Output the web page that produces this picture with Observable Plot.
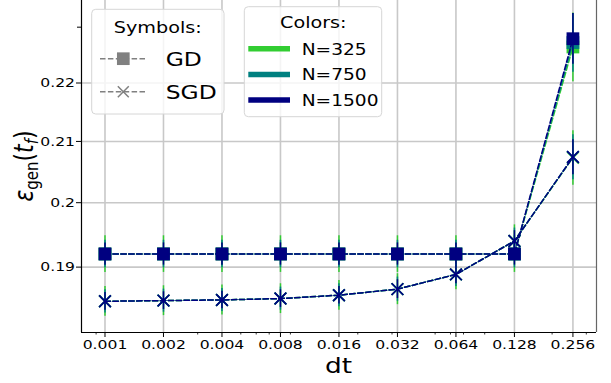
<!DOCTYPE html>
<html>
<head>
<meta charset="utf-8">
<script src="https://cdn.jsdelivr.net/npm/d3@7"></script>
<script src="https://cdn.jsdelivr.net/npm/@observablehq/plot@0.6"></script>
<style>
  html, body { margin: 0; padding: 0; background: #fff; }
  #chart svg { display: block; }
</style>
</head>
<body>
<div id="chart"></div>
<script>
// Step sizes (log axis) and the tick sets
const dt = [0.001, 0.002, 0.004, 0.008, 0.016, 0.032, 0.064, 0.128, 0.256];
const yTicks = [0.19, 0.2, 0.21, 0.22];
const yTopTick = [0.23];
const xMinorTicks = [0.0009, 0.003, 0.005, 0.006, 0.007, 0.009, 0.02, 0.03, 0.05, 0.06, 0.07, 0.09, 0.2, 0.3];

// Series: generalisation error at final time, per sample size N
const sizes = ["N=325", "N=750", "N=1500"];
const colors = ["#32cd32", "#008080", "#000080"];

const gd325  = [0.1920, 0.1920, 0.1920, 0.1920, 0.1920, 0.1920, 0.1920, 0.1920, 0.2264];
const gd750  = [0.1920, 0.1920, 0.1920, 0.1920, 0.1920, 0.1920, 0.1920, 0.1920, 0.2272];
const gd1500 = [0.1920, 0.1920, 0.1920, 0.1920, 0.1920, 0.1920, 0.1920, 0.1920, 0.2279];

const sgd325  = [0.1849, 0.1850, 0.1851, 0.1853, 0.1858, 0.1867, 0.1889, 0.1940, 0.2073];
const sgd750  = [0.1849, 0.1850, 0.1851, 0.1853, 0.1858, 0.1867, 0.1889, 0.1940, 0.2074];
const sgd1500 = [0.1849, 0.1850, 0.1851, 0.1853, 0.1858, 0.1867, 0.1889, 0.1940, 0.2074];

// Error bar half-widths
const gdErr325  = [0.0028, 0.0028, 0.0028, 0.0028, 0.0028, 0.0028, 0.0028, 0.0028, 0.0062];
const gdErr750  = [0.0021, 0.0021, 0.0021, 0.0021, 0.0021, 0.0021, 0.0021, 0.0021, 0.0053];
const gdErr1500 = [0.0017, 0.0017, 0.0017, 0.0017, 0.0017, 0.0017, 0.0017, 0.0017, 0.0046];

const sgdErr325  = [0.0022, 0.0022, 0.0022, 0.0022, 0.0022, 0.0023, 0.0023, 0.0025, 0.0045];
const sgdErr750  = [0.0017, 0.0017, 0.0017, 0.0017, 0.0017, 0.0018, 0.0018, 0.0020, 0.0037];
const sgdErr1500 = [0.0013, 0.0013, 0.0013, 0.0013, 0.0013, 0.0014, 0.0014, 0.0016, 0.0029];

const gdSeries  = [gd325, gd750, gd1500];
const sgdSeries = [sgd325, sgd750, sgd1500];
const gdErrs    = [gdErr325, gdErr750, gdErr1500];
const sgdErrs   = [sgdErr325, sgdErr750, sgdErr1500];

const toRows = (vals, errs) => dt.map((d, i) => ({dt: d, y: vals[i], err: errs[i]}));

const xDomain = [0.000757, 0.3385];
const yDomain = [0.18036, 0.23494];
const dash = "5.5,2.4";

const marks = [
  Plot.gridX(dt, {stroke: "#c8c8c8", strokeOpacity: 1, strokeWidth: 1.6}),
  Plot.gridY(yTicks, {stroke: "#c8c8c8", strokeOpacity: 1, strokeWidth: 1.6})
];

sizes.forEach((_, k) => {
  const gd = toRows(gdSeries[k], gdErrs[k]);
  const sgd = toRows(sgdSeries[k], sgdErrs[k]);
  const c = colors[k];
  for (const rows of [gd, sgd]) {
    marks.push(Plot.ruleX(rows, {x: "dt", y1: d => d.y - d.err, y2: d => d.y + d.err, stroke: c, strokeWidth: 1.5}));
  }
  marks.push(Plot.line(gd, {x: "dt", y: "y", stroke: c, strokeWidth: 1.5, strokeDasharray: dash}));
  marks.push(Plot.dot(gd, {x: "dt", y: "y", symbol: "square", fill: c, r: 7.2}));
  marks.push(Plot.line(sgd, {x: "dt", y: "y", stroke: c, strokeWidth: 1.5, strokeDasharray: dash}));
  marks.push(Plot.dot(sgd, {x: "dt", y: "y", symbol: "times", stroke: c, fill: "none", r: 5.4, strokeWidth: 1.7}));
});

marks.push(
  Plot.ruleX([xDomain[1]], {stroke: "#666", strokeWidth: 1.2}),
  Plot.ruleY([yDomain[0]], {stroke: "black", strokeWidth: 1.2}),
  Plot.ruleX([xDomain[0]], {stroke: "black", strokeWidth: 1.2}),
  // tick marks
  Plot.axisX(dt, {tickSize: 5, tickFormat: () => "", label: null}),
  Plot.axisX(xMinorTicks, {tickSize: 2.5, strokeWidth: 0.8, tickFormat: () => "", label: null}),
  Plot.axisY(yTicks, {tickSize: 5, tickFormat: () => "", label: null}),
  Plot.axisY(yTopTick, {tickSize: 4, tickFormat: () => "", label: null}),
  // tick labels
  Plot.text(dt, {x: d => d, y: yDomain[0], text: d => String(d), lineAnchor: "top", dy: 7, fontSize: 13, fill: "black"}),
  Plot.text(yTicks, {x: xDomain[0], y: d => d, text: d => String(d), textAnchor: "end", dx: -6.5, fontSize: 13, fill: "black"})
);

const chart = Plot.plot({
  width: 611,
  height: 383,
  marginLeft: 81,
  marginRight: 15,
  marginTop: 0,
  marginBottom: 51,
  x: {type: "log", domain: xDomain},
  y: {type: "log", domain: yDomain},
  style: {fontFamily: "DejaVu Sans", fontSize: "13px", background: "white", color: "black"},
  marks
});

// Widen the glyphs horizontally
const SX = 1.2;
chart.querySelectorAll("text").forEach(t => {
  t.setAttribute("transform", (t.getAttribute("transform") || "") + ` scale(${SX},1)`);
});

document.getElementById("chart").appendChild(chart);

const svg = d3.select(chart);
const ff = "DejaVu Sans";

function label(g, x, y, txt, size, anchor) {
  return g.append("text")
    .attr("transform", `translate(${x},${y}) scale(${SX},1)`)
    .attr("text-anchor", anchor || "start")
    .attr("font-family", ff)
    .attr("font-size", size)
    .attr("fill", "black")
    .text(txt);
}

// Axis titles
label(svg, 338.5, 373, "dt", 22, "middle");
const yl = svg.append("text")
  .attr("transform", `translate(33,166) scale(${SX},1) rotate(-90)`)
  .attr("text-anchor", "middle")
  .attr("font-family", ff)
  .attr("font-size", 22)
  .attr("fill", "black");
yl.append("tspan").attr("font-style", "italic").text("ε");
yl.append("tspan").attr("font-size", 15).attr("dy", 4).text("gen");
yl.append("tspan").attr("dy", -4).text("(");
yl.append("tspan").attr("font-style", "italic").text("t");
yl.append("tspan").attr("font-style", "italic").attr("font-size", 15).attr("dy", 4).text("f");
yl.append("tspan").attr("dy", -4).text(")");

// Legend: marker shapes
const lg1 = svg.append("g");
lg1.append("rect").attr("x", 91.7).attr("y", 9.3).attr("width", 132.3).attr("height", 104.7)
  .attr("rx", 4).attr("fill", "white").attr("fill-opacity", 0.8).attr("stroke", "#d6d6d6");
label(lg1, 157.7, 33.3, "Symbols:", 16, "middle");
const symRows = [
  {name: "GD", y: 58.7, sym: d3.symbolSquare, size: 161, fill: "gray", stroke: "none"},
  {name: "SGD", y: 91.7, sym: d3.symbolTimes, size: 80, fill: "none", stroke: "gray"}
];
symRows.forEach(r => {
  lg1.append("line").attr("x1", 100).attr("x2", 146.7).attr("y1", r.y).attr("y2", r.y)
    .attr("stroke", "gray").attr("stroke-width", 1.5).attr("stroke-dasharray", dash);
  lg1.append("path").attr("d", d3.symbol(r.sym, r.size)())
    .attr("transform", `translate(123.3,${r.y})`)
    .attr("fill", r.fill).attr("stroke", r.stroke).attr("stroke-width", 1.5);
  label(lg1, 165.7, r.y + 7, r.name, 19.5);
});

// Legend: sample sizes
const lg2 = svg.append("g");
lg2.append("rect").attr("x", 244.3).attr("y", 6.7).attr("width", 137.4).attr("height", 110)
  .attr("rx", 4).attr("fill", "white").attr("fill-opacity", 0.8).attr("stroke", "#d6d6d6");
label(lg2, 313.3, 28.3, "Colors:", 16, "middle");
sizes.forEach((s, k) => {
  const y = 48.7 + k * 25.7;
  lg2.append("line").attr("x1", 248.3).attr("x2", 290).attr("y1", y).attr("y2", y)
    .attr("stroke", colors[k]).attr("stroke-width", 5.5);
  label(lg2, 301.7, y + 6, s, 15.5);
});
</script>
</body>
</html>
